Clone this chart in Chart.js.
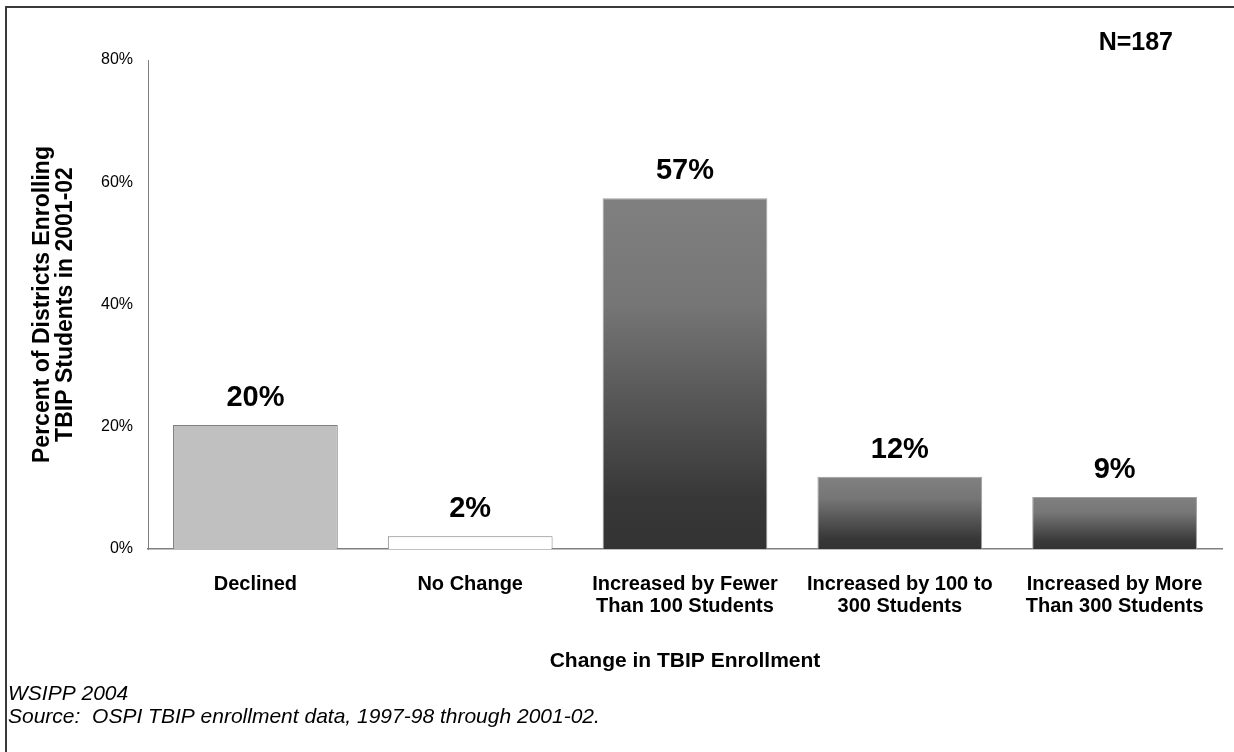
<!DOCTYPE html>
<html>
<head>
<meta charset="utf-8">
<script src="https://cdn.jsdelivr.net/npm/chart.js@4.4.1/dist/chart.umd.min.js"></script>
<style>
  html, body { margin: 0; padding: 0; background: #fff; }
  #wrap { position: relative; width: 1234px; height: 752px; overflow: hidden; }
  #frame {
    position: absolute; left: 5px; top: 6px; width: 1240px; height: 760px;
    border-left: 2px solid #3a3a3a; border-top: 2px solid #3a3a3a;
    box-sizing: border-box; pointer-events: none;
  }
  canvas { position: absolute; left: 0; top: 0; }
</style>
</head>
<body>
<div id="wrap">
  <canvas id="enrollChart" width="1234" height="752"></canvas>
  <div id="frame"></div>
</div>
<script>
// Data
const categories = [
    'Declined',
    'No Change',
    ['Increased by Fewer', 'Than 100 Students'],
    ['Increased by 100 to', '300 Students'],
    ['Increased by More', 'Than 300 Students']
];
const percents = [20.3, 2.1, 57.4, 11.8, 8.5];
const percentLabels = ['20%', '2%', '57%', '12%', '9%'];
const yTicks = [0, 20, 40, 60, 80];
const yTitle = ['Percent of Districts Enrolling', 'TBIP Students in 2001-02'];
const xTitle = 'Change in TBIP Enrollment';
const sampleNote = 'N=187';
const footnotes = ['WSIPP 2004', 'Source:  OSPI TBIP enrollment data, 1997-98 through 2001-02.'];

// Styles
const FONT = '"Liberation Sans", Arial, Helvetica, sans-serif';
const barStyles = ['#c0c0c0', '#ffffff', 'gradient', 'gradient', 'gradient'];
const barBorders = ['#808080', '#808080', '#a0a0a0', '#a0a0a0', '#a0a0a0'];

function barFill(c) {
    const style = barStyles[c.dataIndex];
    if (style !== 'gradient') return style;
    const chart = c.chart;
    if (!chart.chartArea) return '#5a5a5a';
    const y = chart.scales.y;
    const top = y.getPixelForValue(c.raw);
    const base = y.getPixelForValue(0);
    const g = chart.ctx.createLinearGradient(0, top, 0, base);
    g.addColorStop(0, '#808080');
    g.addColorStop(0.3, '#767676');
    g.addColorStop(0.85, '#383838');
    g.addColorStop(1, '#333333');
    return g;
}

// Value labels above bars + extra texts
const textPlugin = {
    id: 'texts',
    afterDatasetsDraw(chart) {
        const ctx = chart.ctx;
        const meta = chart.getDatasetMeta(0);
        ctx.save();
        ctx.fillStyle = '#000';
        ctx.textAlign = 'center';
        ctx.textBaseline = 'middle';
        ctx.font = 'bold 29px ' + FONT;
        meta.data.forEach((bar, i) => {
            ctx.fillText(percentLabels[i], bar.x, bar.y - 27);
        });

        ctx.textAlign = 'right';
        ctx.font = 'bold 25px ' + FONT;
        ctx.fillText(sampleNote, 1173, 43);

        ctx.textAlign = 'left';
        ctx.font = 'italic 21px ' + FONT;
        ctx.fillText(footnotes[0], 8, 694);
        ctx.fillText(footnotes[1], 8, 717);
        ctx.restore();
    }
};

const ctx = document.getElementById('enrollChart').getContext('2d');
const enrollChart = new Chart(ctx, {
    type: 'bar',
    data: {
        labels: categories,
        datasets: [{
            data: percents,
            backgroundColor: barFill,
            borderColor: barBorders,
            borderWidth: 1,
            borderSkipped: 'bottom',
            barPercentage: 0.767,
            categoryPercentage: 1
        }]
    },
    options: {
        responsive: false,
        animation: false,
        layout: { padding: { top: 60, right: 12, bottom: 80, left: 0 } },
        plugins: {
            legend: { display: false },
            tooltip: { enabled: false }
        },
        scales: {
            x: {
                grid: { display: false, drawTicks: false },
                border: { display: true, color: '#808080', width: 1.5 },
                ticks: {
                    color: '#000',
                    padding: 24,
                    maxRotation: 0,
                    autoSkip: false,
                    font: { family: FONT, size: 20, weight: 'bold', lineHeight: 1.1 }
                },
                title: {
                    display: true,
                    text: xTitle,
                    color: '#000',
                    padding: { top: 0, bottom: 0 },
                    font: { family: FONT, size: 21, weight: 'bold', lineHeight: 1.05 }
                },
                afterFit(scale) { scale.height = 123; }
            },
            y: {
                min: 0,
                max: 80,
                afterBuildTicks(scale) { scale.ticks = yTicks.map(v => ({ value: v })); },
                grid: { display: false, drawTicks: false },
                border: { display: true, color: '#808080', width: 1 },
                ticks: {
                    color: '#000',
                    padding: 15,
                    callback: v => v + '%',
                    font: { family: FONT, size: 16 }
                },
                title: {
                    display: true,
                    text: yTitle,
                    color: '#000',
                    padding: { top: 31, bottom: 0 },
                    font: { family: FONT, size: 23, weight: 'bold', lineHeight: 1.0 }
                },
                afterFit(scale) { scale.width = 148; }
            }
        }
    },
    plugins: [textPlugin]
});
</script>
</body>
</html>
